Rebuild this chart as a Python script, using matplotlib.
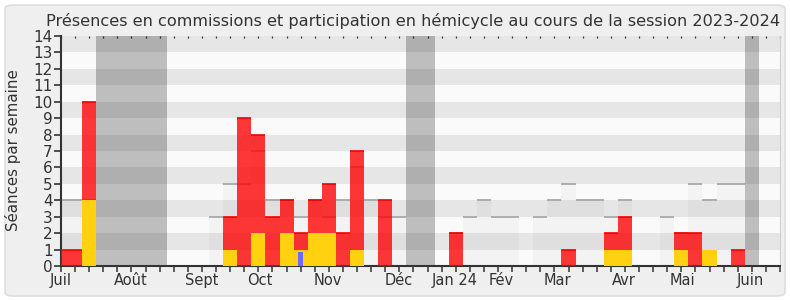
import matplotlib
matplotlib.use("Agg")
import matplotlib.pyplot as plt
from matplotlib.patches import FancyBboxPatch
import numpy as np

# ---- data ----
n_weeks = 51
weeks = list(range(n_weeks))
# commission presences (yellow), per week
commission = {2: 4, 12: 1, 14: 2, 16: 2, 17: 1, 18: 2, 19: 2, 21: 1,
              39: 1, 40: 1, 44: 1, 46: 1}
# hemicycle presences (red), stacked on top of commission
hemicycle = {0: 1, 1: 1, 2: 6, 12: 2, 13: 9, 14: 6, 15: 3, 16: 2, 17: 1,
             18: 2, 19: 3, 20: 2, 21: 6, 23: 4, 28: 2, 36: 1, 39: 1,
             40: 2, 44: 1, 45: 2, 48: 1}
# interventions (blue, narrow)
interventions = {17: 0.87}
# median of all deputies (grey steps)
median = {0: 4, 1: 4, 2: 4, 11: 3, 12: 5, 13: 5, 14: 7, 15: 4, 16: 4,
          17: 3, 18: 4, 19: 3, 20: 4, 21: 6, 22: 4, 23: 3, 24: 3, 28: 2,
          29: 3, 30: 4, 31: 3, 32: 3, 34: 3, 35: 4, 36: 5, 37: 4, 38: 4,
          39: 3, 40: 4, 43: 3, 44: 2, 45: 5, 46: 4, 47: 5, 48: 5}
# holiday weeks (grey columns)
holiday_weeks = [3, 4, 5, 6, 7, 25, 26, 49]
month_labels = ["Juil", "Août", "Sept", "Oct", "Nov", "Déc", "Jan 24",
                "Fév", "Mar", "Avr", "Mai", "Juin"]
month_weeks = [0, 4.93, 9.95, 14.1, 18.96, 23.95, 27.9, 31.2, 35.2,
               39.9, 44.1, 48.9]
title = "Présences en commissions et participation en hémicycle au cours de la session 2023-2024"
ylabel = "Séances par semaine"

# ---- figure ----
fig = plt.figure(figsize=(7.9, 3.0), dpi=100)
fig.patch.set_facecolor("white")
bg = FancyBboxPatch((5 / 790, 4 / 300), 780 / 790, 291 / 300,
                    boxstyle="round,pad=0,rounding_size=0.012",
                    transform=fig.transFigure, facecolor="#efefef",
                    edgecolor="#dedede", linewidth=1.2, zorder=-10)
fig.patches.append(bg)

ax = fig.add_axes([61 / 790, 34 / 300, 719 / 790, 230 / 300])
ax.set_facecolor("#fafafa")
ax.set_xlim(0, n_weeks)
ax.set_ylim(0, 14)

# stripes
for y in range(1, 14, 2):
    ax.axhspan(y, y + 1, color="#e6e6e6", lw=0, zorder=0)

# median steps
for w, v in median.items():
    ax.bar(w, v, width=1.0, color="black", alpha=0.028, lw=0, zorder=1)
    ax.hlines(v, w - 0.5, w + 0.5, color="#a8a8a8", lw=1.3, zorder=1.5)

# holiday bands
for w in holiday_weeks:
    ax.axvspan(w - 0.5, w + 0.5, color="black", alpha=0.24, lw=0, zorder=2)

# bars
yel = np.array([commission.get(w, 0) for w in weeks], dtype=float)
red = np.array([hemicycle.get(w, 0) for w in weeks], dtype=float)
blue = np.array([interventions.get(w, 0) for w in weeks], dtype=float)
ax.bar(weeks, yel, width=1.0, color="#ffd10f", lw=0, zorder=3)
ax.bar(weeks, red, bottom=yel, width=1.0, color="#ff0000", alpha=0.78,
       lw=0, zorder=3)
for w in weeks:
    if red[w] > 0:
        ax.hlines(yel[w] + red[w], w - 0.5, w + 0.5, color="#f00000",
                  lw=1.2, zorder=3.5)
ax.bar(weeks, blue, width=0.36, color="#6b6bff", lw=0, zorder=4)

# axes styling
ax.spines["top"].set_visible(False)
ax.spines["right"].set_color("#d0d0d0")
ax.spines["right"].set_linewidth(0.8)
ax.spines["left"].set_color("#333333")
ax.spines["bottom"].set_color("#333333")
ax.spines["left"].set_linewidth(1.5)
ax.spines["bottom"].set_linewidth(1.5)

ax.set_yticks(range(0, 15))
ax.tick_params(axis="y", direction="out", length=5, width=1.2,
               color="#333333", labelsize=11, labelcolor="#333333", pad=1)

ax.xaxis.remove_overlapping_locs = False
ax.set_xticks(month_weeks)
ax.set_xticklabels(month_labels)
ax.set_xticks(np.arange(0, n_weeks + 1), minor=True)
ax.tick_params(axis="x", which="major", length=0, labelsize=10.5,
               labelcolor="#333333", pad=5)
ax.tick_params(axis="x", which="minor", direction="out", length=4,
               width=1.1, color="#333333", top=True, bottom=True)
for t in ax.xaxis.get_minor_ticks():
    t.tick2line.set_markersize(1.2)
    t.tick2line.set_marker(3)
    t.tick2line.set_markeredgewidth(0.9)

fig.text(413 / 790, (300 - 26) / 300, title, ha="center", va="baseline",
         fontsize=11.6, color="#333333")
fig.text(13 / 790, 0.5, ylabel, rotation=90, ha="center", va="center",
         fontsize=10.8, color="#333333")

fig.savefig("out.png", dpi=100, facecolor=fig.get_facecolor())
